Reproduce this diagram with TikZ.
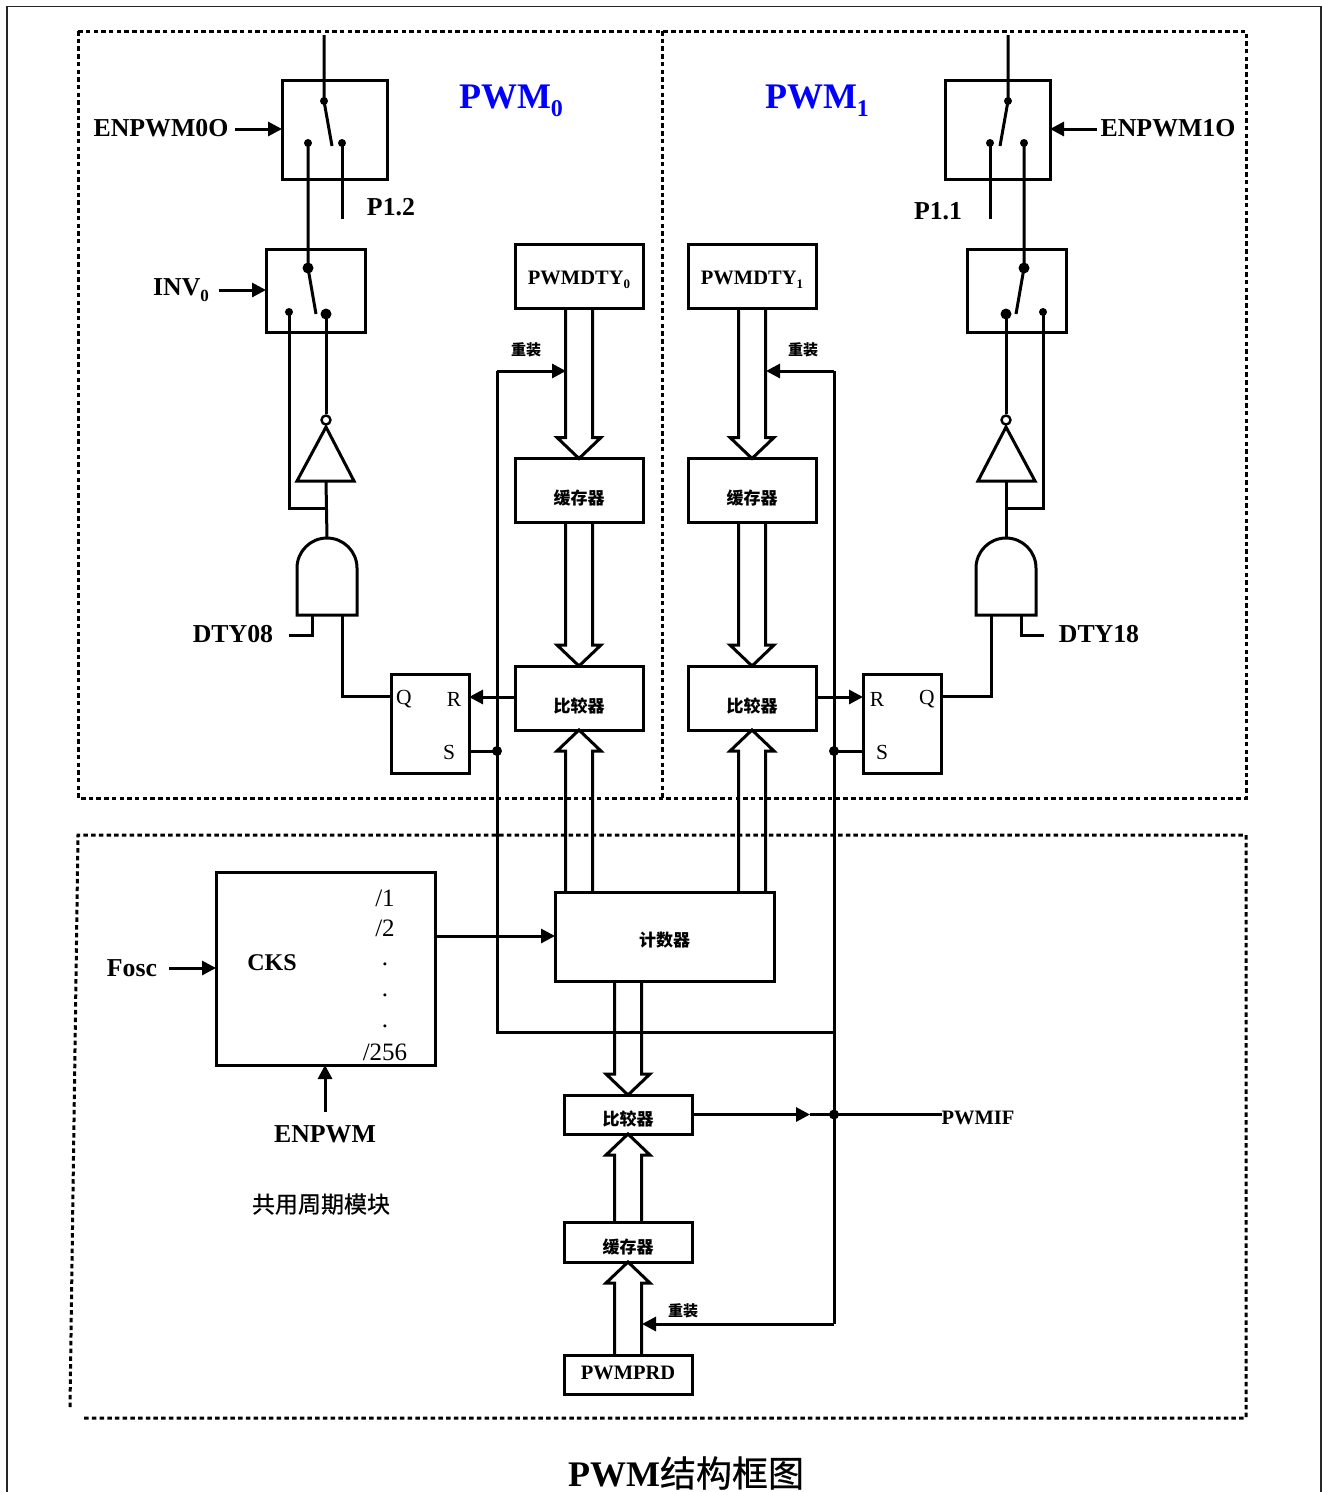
\documentclass[tikz,border=0pt]{standalone}
\usepackage{fontspec}
\setmainfont{Liberation Serif}
\newfontfamily\cjkf{Noto Sans CJK SC}
\newfontfamily\cjkm[FakeBold=0.6]{Noto Sans CJK SC}
\usetikzlibrary{arrows.meta,calc}
\newcommand\fsz[1]{\fontsize{#1pt}{#1pt}\selectfont}
\newcommand\sbt[2]{\raisebox{-0.22em}{\fsz{#1}#2}}
\newcommand\lift[2]{\raisebox{#1}[0pt][0pt]{#2}}
\newcommand\bus[3]{\draw[bus] ([xshift=-13.5pt]#1) -- ([xshift=-13.5pt,yshift=#3 21pt]#2) -- ([xshift=-22pt,yshift=#3 21pt]#2) -- (#2) -- ([xshift=22pt,yshift=#3 21pt]#2) -- ([xshift=13.5pt,yshift=#3 21pt]#2) -- ([xshift=13.5pt]#1);}
\tikzset{
  x=1pt,y=-1pt,
  wire/.style={line width=3pt,line join=miter},
  thin wire/.style={line width=2.4pt},
  arr/.style={wire,-{Triangle[length=14pt,width=14pt]}},
  bus/.style={line width=3pt,line join=miter},
  blk/.style={draw,line width=3pt,inner sep=0pt,outer sep=0pt,fill=white,align=center},
  bigbox/.style={blk,minimum width=128pt,minimum height=64pt,font=\bfseries\fsz{20.5}},
  lowbox/.style={blk,minimum width=128pt,minimum height=39pt,font=\bfseries\fsz{20.5}},
  lbl/.style={inner sep=0pt,font=\bfseries\fsz{25.8}},
  reload/.style={inner sep=0pt,font=\cjkf\bfseries\fsz{15}},
  plain/.style={inner sep=0pt,font=\fsz{25}},
  rs/.style={inner sep=0pt,font=\fsz{21.5}},
  dot/.style={circle,fill=black,inner sep=0pt,minimum size=#1},
  dot/.default=8pt,
  frame/.style={line width=3pt,dash pattern=on 4.5pt off 3.2pt},
}
\begin{document}
\begin{tikzpicture}
\useasboundingbox (0,0) rectangle (1322,1492);
\fill[white] (0,0) rectangle (1322,1492);
% page border
\draw[line width=1.4pt,black!85] (7,1492) -- (7,6.5) -- (1321,6.5) -- (1321,1492);
% dashed frames
\draw[frame] (78,31) rectangle (1246,798);
\draw[frame] (662,31) -- (662,798);
\draw[frame] (70,1407) -- (78,835) -- (1246,835) -- (1246,1418) -- (83,1418);

% main blocks
\node[bigbox] (dty0) at (579,276) {\lift{-8pt}{PWMDTY\sbt{13}{0}}};
\node[bigbox] (dty1) at (752,276) {\lift{-8pt}{PWMDTY\sbt{13}{1}}};
\node[bigbox] (buf0) at (579,490.5) {\lift{-14pt}{\cjkf\bfseries\fsz{17}缓存器}};
\node[bigbox] (buf1) at (752,490.5) {\lift{-14pt}{\cjkf\bfseries\fsz{17}缓存器}};
\node[bigbox] (cmp0) at (579,698) {\lift{-14pt}{\cjkf\bfseries\fsz{17}比较器}};
\node[bigbox] (cmp1) at (752,698) {\lift{-14pt}{\cjkf\bfseries\fsz{17}比较器}};
\node[blk,minimum width=219pt,minimum height=89pt] (cnt) at (664.5,936.5) {\lift{-10pt}{\cjkf\bfseries\fsz{17}计数器}};
\node[lowbox,minimum height=39pt] (cmp2) at (628,1114.5) {\lift{-11pt}{\cjkf\bfseries\fsz{17}比较器}};
\node[lowbox,minimum height=40pt] (buf2) at (628,1242) {\lift{-11pt}{\cjkf\bfseries\fsz{17}缓存器}};
\node[lowbox,minimum height=39pt] (prd) at (628,1374.5) {\lift{-5pt}{PWMPRD}};
\node[blk,minimum width=219pt,minimum height=193pt] (cks) at (325.5,968.5) {};
\node[blk,minimum width=78pt,minimum height=99pt] (rs0) at (430,723.5) {};
\node[blk,minimum width=78pt,minimum height=99pt] (rs1) at (902,723.5) {};

% switch boxes
\node[blk,minimum width=105pt,minimum height=99pt] (sw0) at (334.5,129.5) {};
\node[blk,minimum width=105pt,minimum height=99pt] (sw1) at (997.5,129.5) {};
\node[blk,minimum width=99pt,minimum height=83pt] (sx0) at (315.5,290.5) {};
\node[blk,minimum width=99pt,minimum height=83pt] (sx1) at (1016.5,290.5) {};

% buses
\bus{dty0.south}{buf0.north}{}
\bus{dty1.south}{buf1.north}{}
\bus{buf0.south}{cmp0.north}{}
\bus{buf1.south}{cmp1.north}{}
\coordinate (cb0) at (cmp0.south |- cnt.north);
\coordinate (cb1) at (cmp1.south |- cnt.north);
\bus{cb0}{cmp0.south}{-}
\bus{cb1}{cmp1.south}{-}
\coordinate (cb2) at (cmp2.north |- cnt.south);
\bus{cb2}{cmp2.north}{}
\bus{buf2.north}{cmp2.south}{-}
\bus{prd.north}{buf2.south}{-}

% left switch contents
\coordinate (in0) at (324,35);
\coordinate (in1) at (1008,35);
\node[dot=8pt] (p0) at (324,101) {};
\node[dot=8pt] (a0) at (308,143) {};
\node[dot=8pt] (b0) at (342,143) {};
\coordinate (bl0) at (332,146);
\coordinate (p12) at (342,219);
\node[dot=11pt] (q0) at (308,268) {};
\node[dot=8pt] (c0) at (289,312) {};
\node[dot=11pt] (d0) at (326,314) {};
\coordinate (bm0) at (316,314);
\draw[wire] (in0) -- (p0.center) -- (bl0);
\draw[wire] (a0.center) -- (q0.center) -- (bm0);
\draw[wire] (b0.center) -- (p12);
% right switch contents
\node[dot=8pt] (p1) at (1008,101) {};
\node[dot=8pt] (a1) at (990,143) {};
\node[dot=8pt] (b1) at (1024,143) {};
\coordinate (bl1) at (1000,146);
\coordinate (p11) at (990,219);
\node[dot=11pt] (q1) at (1024,268) {};
\node[dot=8pt] (c1) at (1043,312) {};
\node[dot=11pt] (d1) at (1006,314) {};
\coordinate (bm1) at (1016,314);
\draw[wire] (in1) -- (p1.center) -- (bl1);
\draw[wire] (a1.center) -- (p11);
\draw[wire] (b1.center) -- (q1.center) -- (bm1);

% inverters
\node[circle,draw,line width=2.4pt,fill=white,inner sep=0pt,minimum size=9pt] (bub0) at (326,420) {};
\node[circle,draw,line width=2.4pt,fill=white,inner sep=0pt,minimum size=9pt] (bub1) at (1006,420) {};
\draw[wire,line join=miter] (326,427) -- (297,481) -- (354,481) -- cycle;
\draw[wire,line join=miter] (1006,427) -- (978,481) -- (1035,481) -- cycle;
\coordinate (inv0b) at (326,481);
\coordinate (inv1b) at (1006,481);
\coordinate (and0t) at (327,538);
\coordinate (and1t) at (1006,538);
\coordinate (j0) at (327,508);
\coordinate (j1) at (1006,508);
\draw[wire] (d0.center) -- (bub0.north);
\draw[wire] (d1.center) -- (bub1.north);
\draw[wire] (inv0b) -- (and0t);
\draw[wire] (inv1b) -- (and1t);
\draw[wire] (c0.center) -- (c0.center |- j0) -- (j0);
\draw[wire] (c1.center) -- (c1.center |- j1) -- (j1);

% AND gates
\draw[wire] (297,615) -- (297,568) arc[start angle=180,end angle=360,radius=30] -- (357,615) -- cycle;
\draw[wire] (976,615) -- (976,568) arc[start angle=180,end angle=360,radius=30] -- (1036,615) -- cycle;
\coordinate (g0a) at (312,615);
\coordinate (g0b) at (342,615);
\coordinate (g1a) at (1021,615);
\coordinate (g1b) at (991,615);
\coordinate (dtyl) at (289,635);
\coordinate (dtyr) at (1044,635);
\draw[wire] (g0a) -- (g0a |- dtyl) -- (dtyl);
\draw[wire] (g1a) -- (g1a |- dtyr) -- (dtyr);
\coordinate (rq0) at (391,696);
\coordinate (rq1) at (941,696);
\draw[wire] (g0b) -- (g0b |- rq0) -- (rq0);
\draw[wire] (g1b) -- (g1b |- rq1) -- (rq1);

% comparator to RS
\draw[arr] (cmp0.west |- 0,697) -- (rs0.east |- 0,697);
\draw[arr] (cmp1.east |- 0,697) -- (rs1.west |- 0,697);

% reload network
\node[dot=10pt] (n0) at (497,751) {};
\node[dot=10pt] (n1) at (834,751) {};
\node[dot=10pt] (n2) at (834,1114.5) {};
\coordinate (low) at (497,1032);
\coordinate (lowr) at (834,1032);
\coordinate (top0) at (497,371);
\coordinate (top1) at (834,371);
\coordinate (t0) at (566,371);
\coordinate (t1) at (766,371);
\coordinate (t2) at (642,1324);
\coordinate (cor) at (834,1324);
\draw[wire] (rs0.east |- n0) -- (n0.center);
\draw[wire] (rs1.west |- n1) -- (n1.center);
\draw[wire,line join=miter] (t0 -| top0) -- (low) -- (lowr);
\draw[wire] (top1) -- (cor);
\draw[arr] (top0) -- (t0);
\draw[arr] (top1) -- (t1);
\draw[arr] (cor) -- (t2);

% counter, clock and interrupt
\coordinate (cksout) at (437,936);
\draw[arr] (cksout) -- (cnt.west |- cksout);
\coordinate (fosc) at (169,968);
\draw[arr] (fosc) -- (cks.west |- fosc);
\coordinate (enp) at (325,1112);
\draw[arr] (enp) -- (enp |- cks.south);
\coordinate (irq) at (810,1114.5);
\draw[arr] (cmp2.east |- irq) -- (irq);
\coordinate (enl) at (235,129);
\draw[arr] (enl) -- (sw0.west |- enl);
\coordinate (enr) at (1097,129);
\draw[arr] (enr) -- (sw1.east |- enr);
\coordinate (invl) at (219,290);
\draw[arr] (invl) -- (sx0.west |- invl);

% texts
\node[inner sep=0pt,font=\bfseries\fsz{36},text=blue] (pwm0) at (511,101) {PWM\sbt{24}{0}};
\node[inner sep=0pt,font=\bfseries\fsz{36},text=blue] (pwm1) at (817,101) {PWM\sbt{24}{1}};
\node[lbl] (t_en0) at (161,128) {ENPWM0O};
\node[lbl] (t_en1) at (1168,128) {ENPWM1O};
\node[lbl] (t_inv) at (181,290) {INV\sbt{17}{0}};
\node[lbl] (t_p12) at (391,207) {P1.2};
\node[lbl] (t_p11) at (938,211) {P1.1};
\node[lbl] (t_d08) at (233,634) {DTY08};
\node[lbl] (t_d18) at (1099,634) {DTY18};
\node[lbl] (t_fosc) at (132,968) {Fosc};
\node[lbl] (t_enp) at (325,1134) {ENPWM};
\node[lbl,font=\bfseries\fsz{24}] (t_cks) at (272,963) {CKS};
\node[plain] (d1) at (385,898) {/1};
\node[plain] (d2) at (385,928) {/2};
\node[plain] (d3) at (385,964) {.};
\node[plain] (d4) at (385,995) {.};
\node[plain] (d5) at (385,1026) {.};
\node[plain] (d6) at (385,1052) {/256};
\node[rs] (q_0) at (404,699) {Q};
\node[rs] (r_0) at (454,699) {R};
\node[rs] (s_0) at (449,752) {S};
\node[rs] (q_1) at (927,699) {Q};
\node[rs] (r_1) at (877,699) {R};
\node[rs] (s_1) at (882,752) {S};
\node[reload] (rl0) at (526,350) {重装};
\node[reload] (rl1) at (803,350) {重装};
\node[reload] (rl2) at (683,1311) {重装};
\coordinate (ifl) at (942,1114.5);
\draw[thin wire] (irq) -- (ifl);
\node[inner sep=0pt,font=\bfseries\fsz{20.5}] (t_if) at (978,1118) {PWMIF};
\node[inner sep=0pt,font=\cjkm\fsz{23}] (t_mod) at (321,1204) {共用周期模块};
\node[inner sep=0pt,font=\bfseries\fsz{36}] (t_title) at (686,1473) {PWM{\cjkm\mdseries 结构框图}};
\end{tikzpicture}
\end{document}
